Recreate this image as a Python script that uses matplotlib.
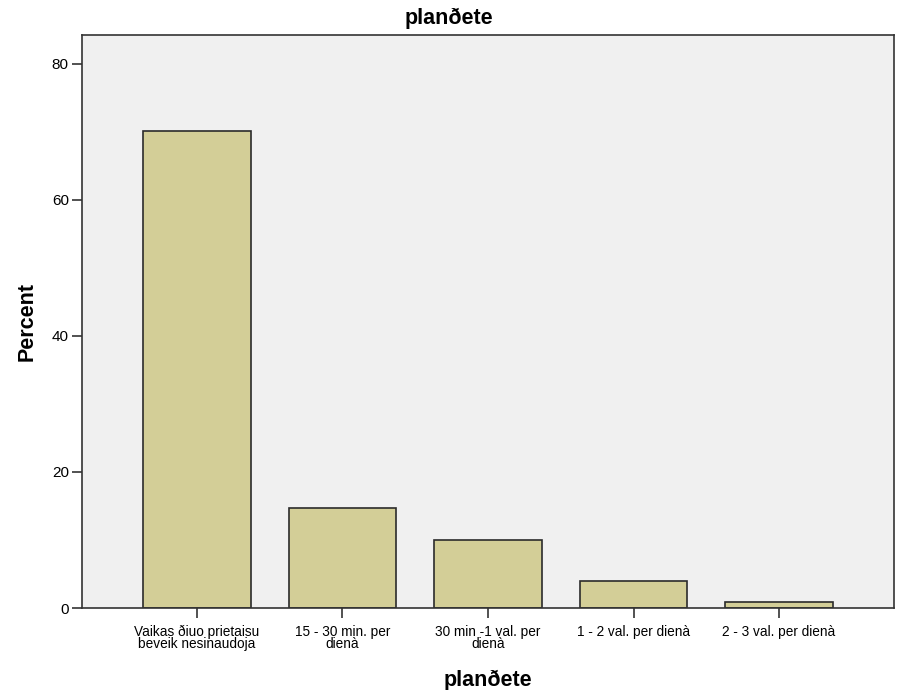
import matplotlib
matplotlib.use("Agg")
import matplotlib.pyplot as plt

#%% DATA
categories = ["Vaikas ðiuo prietaisu\nbeveik nesinaudoja",
              "15 - 30 min. per\ndienà",
              "30 min -1 val. per\ndienà",
              "1 - 2 val. per dienà",
              "2 - 3 val. per dienà"]
percent = [70.1, 14.7, 10.0, 4.0, 0.85]
yticks = [0, 20, 40, 60, 80]

#%% PLOT
plt.rcParams['font.family'] = ['Liberation Sans', 'DejaVu Sans']

W, H = 897, 690
fig = plt.figure(figsize=(W/100, H/100), dpi=100)
ax = fig.add_axes([82/W, 1 - 608/H, (894 - 82)/W, (608 - 35)/H])
ax.set_facecolor('#f0f0f0')

x = range(len(categories))
ax.bar(x, percent, width=0.74, color='#d3ce97', edgecolor='#2b2b2b', linewidth=1.2)

ax.set_xlim(-0.79, 4.79)
ax.set_ylim(0, 84.2)
ax.set_yticks(yticks)
ax.set_xticks(list(x))
ax.set_xticklabels(categories, fontsize=9.8, linespacing=0.85)
ax.tick_params(axis='y', labelsize=11, length=7, width=1.2, color='#333333', pad=2.5)
ax.tick_params(axis='x', length=7, width=1.2, color='#333333', pad=5)

for s in ax.spines.values():
    s.set_color('#333333')
    s.set_linewidth(1.2)

# titles placed in figure pixels
fig.text(0.5, 1 - 24/H, 'planðete', fontsize=15.5, fontweight='bold',
         ha='center', va='baseline')
fig.text((82 + 894)/2/W, 1 - 686/H, 'planðete', fontsize=15.5, fontweight='bold',
         ha='center', va='baseline')
fig.text(27/W, 1 - 321.5/H, 'Percent', fontsize=15.5, fontweight='bold',
         rotation=90, ha='center', va='center')

fig.savefig('out.png', dpi=100)
